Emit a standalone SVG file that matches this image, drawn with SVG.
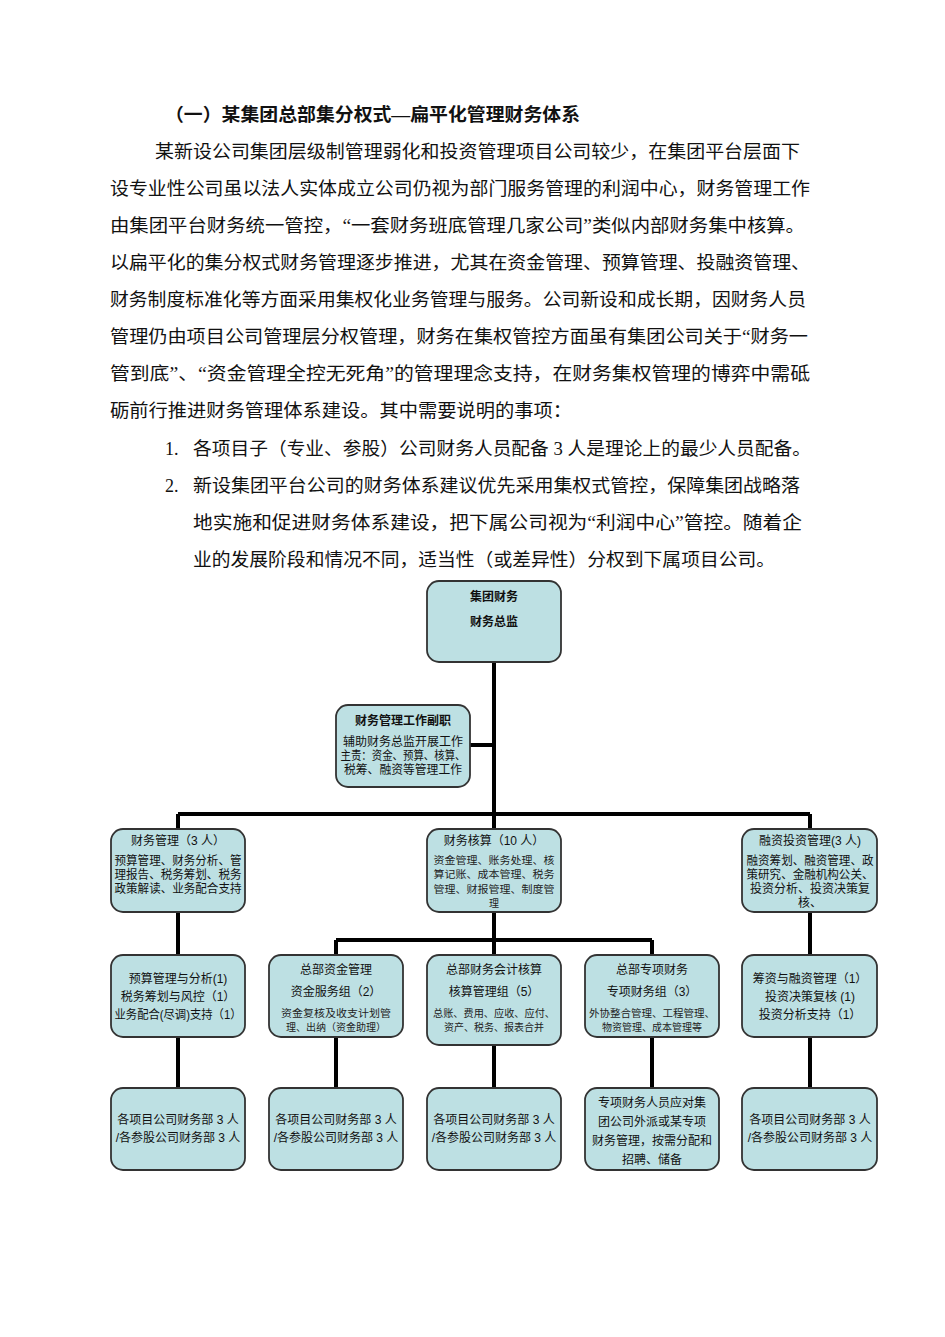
<svg xmlns="http://www.w3.org/2000/svg" width="945" height="1337" viewBox="0 0 945 1337">
<style>
.p{font-family:"Liberation Serif","Noto Sans CJK SC",serif;font-size:18px;fill:#111}
.t{font-family:"Liberation Serif","Noto Sans CJK SC",serif;font-size:18px;font-weight:bold;fill:#111}
.b{fill:#bde0e3;stroke:#333;stroke-width:1.8}
.n{font-family:"Liberation Sans","Noto Sans CJK SC",sans-serif;font-size:12px;fill:#111;text-anchor:middle}
.s{font-family:"Liberation Sans","Noto Sans CJK SC",sans-serif;font-size:10px;fill:#222;text-anchor:middle}
.h{font-family:"Liberation Sans","Noto Sans CJK SC",sans-serif;font-size:12px;font-weight:bold;fill:#111;text-anchor:middle}
.c{stroke:#000;stroke-width:4;fill:none}
</style>
<rect width="945" height="1337" fill="#ffffff"/>
<g id="text">
<text class="t" x="165" y="121" textLength="415" lengthAdjust="spacingAndGlyphs">（一）某集团总部集分权式—扁平化管理财务体系</text>
<text class="p" x="155" y="158" textLength="645" lengthAdjust="spacingAndGlyphs">某新设公司集团层级制管理弱化和投资管理项目公司较少，在集团平台层面下</text>
<text class="p" x="110" y="195" textLength="700" lengthAdjust="spacingAndGlyphs">设专业性公司虽以法人实体成立公司仍视为部门服务管理的利润中心，财务管理工作</text>
<text class="p" x="110" y="232" textLength="695" lengthAdjust="spacingAndGlyphs">由集团平台财务统一管控，“一套财务班底管理几家公司”类似内部财务集中核算。</text>
<text class="p" x="110" y="269" textLength="700" lengthAdjust="spacingAndGlyphs">以扁平化的集分权式财务管理逐步推进，尤其在资金管理、预算管理、投融资管理、</text>
<text class="p" x="110" y="306" textLength="696" lengthAdjust="spacingAndGlyphs">财务制度标准化等方面采用集权化业务管理与服务。公司新设和成长期，因财务人员</text>
<text class="p" x="110" y="343" textLength="698" lengthAdjust="spacingAndGlyphs">管理仍由项目公司管理层分权管理，财务在集权管控方面虽有集团公司关于“财务一</text>
<text class="p" x="110" y="380" textLength="700" lengthAdjust="spacingAndGlyphs">管到底”、“资金管理全控无死角”的管理理念支持，在财务集权管理的博弈中需砥</text>
<text class="p" x="110" y="417" textLength="462" lengthAdjust="spacingAndGlyphs">砺前行推进财务管理体系建设。其中需要说明的事项：</text>
<text class="p" x="165" y="455">1.</text>
<text class="p" x="193" y="455" textLength="618" lengthAdjust="spacingAndGlyphs">各项目子（专业、参股）公司财务人员配备 3 人是理论上的最少人员配备。</text>
<text class="p" x="165" y="492">2.</text>
<text class="p" x="193" y="492" textLength="607" lengthAdjust="spacingAndGlyphs">新设集团平台公司的财务体系建议优先采用集权式管控，保障集团战略落</text>
<text class="p" x="193" y="529" textLength="609" lengthAdjust="spacingAndGlyphs">地实施和促进财务体系建设，把下属公司视为“利润中心”管控。随着企</text>
<text class="p" x="193" y="566" textLength="582" lengthAdjust="spacingAndGlyphs">业的发展阶段和情况不同，适当性（或差异性）分权到下属项目公司。</text>
</g>
<g id="connectors">
<path class="c" d="M494 662V814M470 745H494M178 814H810M178 814V829M494 814V829M810 814V829"/>
<path class="c" d="M178 912V955M810 912V955M494 912V940M336 940H652M336 940V955M494 940V955M652 940V955"/>
<path class="c" d="M178 1037V1088M336 1037V1088M494 1037V1088M652 1037V1088M810 1037V1088"/>
</g>
<g id="n-top"><rect class="b" x="427" y="581" width="134" height="81" rx="12"/>
<text class="h" x="494" y="601">集团财务</text><text class="h" x="494" y="626">财务总监</text></g>
<g id="n-deputy"><rect class="b" x="336" y="705" width="134" height="82" rx="12"/>
<text class="h" x="403" y="725">财务管理工作副职</text>
<text class="n" x="403" y="746" textLength="120" lengthAdjust="spacingAndGlyphs">辅助财务总监开展工作</text>
<text class="n" x="403" y="760" textLength="125" lengthAdjust="spacingAndGlyphs">主责：资金、预算、核算、</text>
<text class="n" x="403" y="774" textLength="118" lengthAdjust="spacingAndGlyphs">税筹、融资等管理工作</text></g>
<g id="n-cwgl"><rect class="b" x="111" y="829" width="134" height="83" rx="12"/>
<text class="n" x="178" y="845">财务管理（3 人）</text>
<text class="n" x="178" y="865" textLength="127" lengthAdjust="spacingAndGlyphs">预算管理、财务分析、管</text>
<text class="n" x="178" y="879" textLength="127" lengthAdjust="spacingAndGlyphs">理报告、税务筹划、税务</text>
<text class="n" x="178" y="893" textLength="127" lengthAdjust="spacingAndGlyphs">政策解读、业务配合支持</text></g>
<g id="n-cwhs"><rect class="b" x="427" y="829" width="134" height="83" rx="12"/>
<text class="n" x="494" y="845">财务核算（10 人）</text>
<text class="s" x="494" y="864" textLength="121" lengthAdjust="spacingAndGlyphs">资金管理、账务处理、核</text>
<text class="s" x="494" y="878" textLength="121" lengthAdjust="spacingAndGlyphs">算记账、成本管理、税务</text>
<text class="s" x="494" y="893" textLength="121" lengthAdjust="spacingAndGlyphs">管理、财报管理、制度管</text>
<text class="s" x="494" y="907">理</text></g>
<g id="n-rztz"><rect class="b" x="742" y="829" width="135" height="83" rx="12"/>
<text class="n" x="810" y="845">融资投资管理(3 人)</text>
<text class="n" x="810" y="865" textLength="127" lengthAdjust="spacingAndGlyphs">融资筹划、融资管理、政</text>
<text class="n" x="810" y="879" textLength="127" lengthAdjust="spacingAndGlyphs">策研究、金融机构公关、</text>
<text class="n" x="810" y="893" textLength="120" lengthAdjust="spacingAndGlyphs">投资分析、投资决策复</text>
<text class="n" x="810" y="907">核、</text></g>
<g id="n-ysgl"><rect class="b" x="111" y="955" width="134" height="82" rx="12"/>
<text class="n" x="178" y="983">预算管理与分析(1)</text>
<text class="n" x="178" y="1001">税务筹划与风控（1）</text>
<text class="n" x="178" y="1019" textLength="127" lengthAdjust="spacingAndGlyphs">业务配合(尽调)支持（1）</text></g>
<g id="n-zjgl"><rect class="b" x="269" y="955" width="134" height="82" rx="12"/>
<text class="n" x="336" y="974">总部资金管理</text>
<text class="n" x="336" y="996">资金服务组（2）</text>
<text class="s" x="336" y="1017" textLength="110" lengthAdjust="spacingAndGlyphs">资金复核及收支计划管</text>
<text class="s" x="336" y="1031">理、出纳（资金助理）</text></g>
<g id="n-kjhs"><rect class="b" x="427" y="955" width="134" height="90" rx="12"/>
<text class="n" x="494" y="974">总部财务会计核算</text>
<text class="n" x="494" y="996">核算管理组（5）</text>
<text class="s" x="494" y="1017" textLength="122" lengthAdjust="spacingAndGlyphs">总账、费用、应收、应付、</text>
<text class="s" x="494" y="1031">资产、税务、报表合并</text></g>
<g id="n-zxcw"><rect class="b" x="585" y="955" width="134" height="82" rx="12"/>
<text class="n" x="652" y="974">总部专项财务</text>
<text class="n" x="652" y="996">专项财务组（3）</text>
<text class="s" x="652" y="1017" textLength="126" lengthAdjust="spacingAndGlyphs">外协整合管理、工程管理、</text>
<text class="s" x="652" y="1031">物资管理、成本管理等</text></g>
<g id="n-czrz"><rect class="b" x="742" y="955" width="135" height="82" rx="12"/>
<text class="n" x="810" y="983">筹资与融资管理（1）</text>
<text class="n" x="810" y="1001">投资决策复核 (1)</text>
<text class="n" x="810" y="1019">投资分析支持（1）</text></g>
<g id="n-xm1"><rect class="b" x="111" y="1088" width="134" height="82" rx="12"/>
<text class="n" x="178" y="1124">各项目公司财务部 3 人</text><text class="n" x="178" y="1142">/各参股公司财务部 3 人</text></g>
<g id="n-xm2"><rect class="b" x="269" y="1088" width="134" height="82" rx="12"/>
<text class="n" x="336" y="1124">各项目公司财务部 3 人</text><text class="n" x="336" y="1142">/各参股公司财务部 3 人</text></g>
<g id="n-xm3"><rect class="b" x="427" y="1088" width="134" height="82" rx="12"/>
<text class="n" x="494" y="1124">各项目公司财务部 3 人</text><text class="n" x="494" y="1142">/各参股公司财务部 3 人</text></g>
<g id="n-zxry"><rect class="b" x="585" y="1088" width="134" height="82" rx="12"/>
<text class="n" x="652" y="1107">专项财务人员应对集</text>
<text class="n" x="652" y="1126">团公司外派或某专项</text>
<text class="n" x="652" y="1145">财务管理，按需分配和</text>
<text class="n" x="652" y="1164">招聘、储备</text></g>
<g id="n-xm5"><rect class="b" x="742" y="1088" width="135" height="82" rx="12"/>
<text class="n" x="810" y="1124">各项目公司财务部 3 人</text><text class="n" x="810" y="1142">/各参股公司财务部 3 人</text></g>
</svg>
